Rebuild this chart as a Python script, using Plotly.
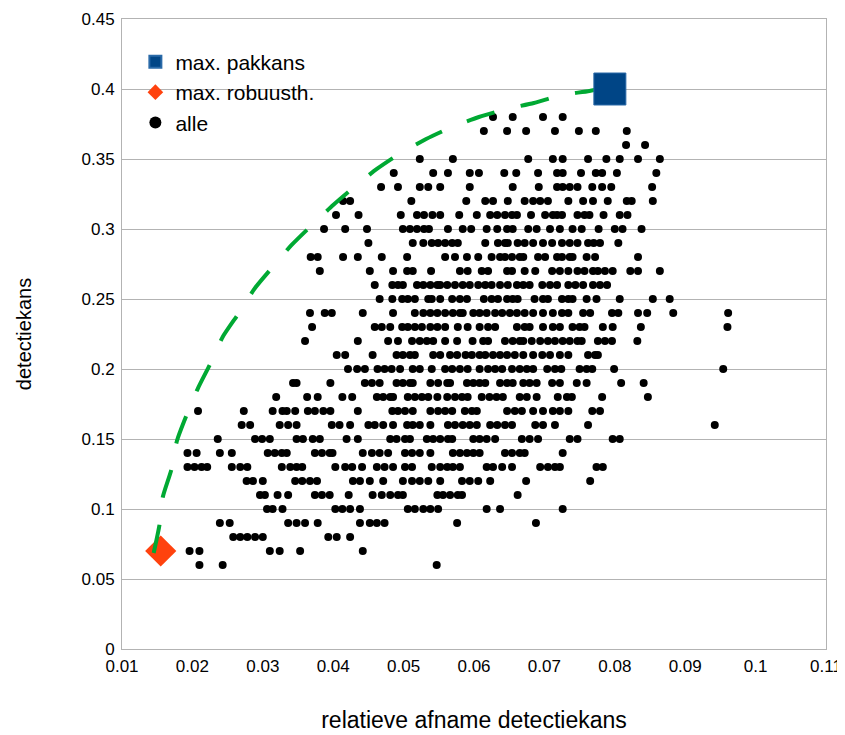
import plotly.graph_objects as go

# x values in thousandths (0.001) per detectiekans row
row_038 = [62.7, 65.5, 69.8, 72.6]
row_037 = [61.4, 64.7, 67.4, 71.5, 74.9, 77.3, 81.7]
row_036 = [81.6, 84.3]
row_035 = [52.3, 57.0, 67.7, 71.2, 72.6, 76.2, 78.8, 80.7, 83.3, 86.4]
row_034 = [48.6, 54.2, 56.3, 59.4, 60.7, 64.3, 66.0, 69.1, 71.8, 72.6, 75.2, 77.3, 78.2, 80.3, 85.9]
row_033 = [46.8, 49.2, 52.3, 53.5, 55.2, 59.4, 65.5, 69.2, 71.8, 72.6, 73.6, 74.7, 76.8, 78.2, 79.5, 85.3]
row_032 = [41.4, 42.4, 51.1, 58.9, 61.6, 62.7, 64.8, 67.2, 68.4, 69.4, 70.5, 73.4, 75.5, 76.9, 79.0, 81.7, 82.4, 85.4]
row_031 = [40.4, 43.6, 49.6, 51.9, 52.9, 54.1, 55.2, 57.9, 60.4, 62.3, 63.3, 64.4, 65.4, 66.1, 68.1, 70.1, 71.2, 71.8, 72.5, 74.7, 75.7, 76.4, 78.4, 80.7, 81.8]
row_030 = [38.7, 41.7, 44.8, 49.9, 50.9, 51.9, 52.9, 53.6, 56.3, 58.4, 59.6, 61.8, 63.3, 64.7, 65.5, 67.7, 68.9, 70.8, 72.2, 74.0, 75.3, 77.7, 80.0, 81.1, 83.8]
row_029 = [45.0, 51.3, 52.8, 54.0, 54.9, 55.9, 56.9, 57.7, 61.6, 63.4, 64.4, 64.8, 66.2, 67.2, 68.4, 69.8, 71.1, 72.5, 73.6, 74.7, 76.2, 77.0, 77.9, 80.5]
row_028 = [36.8, 37.8, 41.4, 43.5, 46.9, 50.5, 55.9, 57.3, 59.0, 60.6, 62.5, 63.7, 64.4, 65.4, 66.5, 67.0, 69.1, 70.1, 71.8, 72.5, 73.6, 74.0, 76.0, 77.2, 83.3]
row_027 = [38.1, 45.2, 48.5, 50.5, 51.3, 53.9, 58.0, 59.1, 61.1, 62.0, 64.7, 65.4, 67.2, 68.7, 71.1, 72.2, 73.4, 74.7, 75.7, 76.9, 77.6, 78.6, 79.7, 82.2, 83.3, 86.4]
row_026 = [45.9, 48.4, 49.2, 49.9, 51.9, 52.8, 53.8, 54.8, 55.2, 56.2, 57.3, 58.4, 59.4, 60.6, 61.6, 62.5, 63.7, 64.8, 66.1, 67.0, 67.9, 69.7, 70.8, 71.8, 73.4, 74.4, 75.5, 76.9, 77.9, 78.9]
row_025 = [46.6, 48.4, 49.8, 50.6, 51.6, 53.5, 54.0, 55.2, 56.9, 58.0, 59.0, 61.4, 62.5, 63.4, 64.7, 65.5, 66.2, 68.6, 69.8, 70.5, 72.5, 73.4, 74.0, 76.0, 77.4, 80.7, 85.4, 87.8]
row_024 = [36.7, 38.8, 39.8, 44.2, 48.5, 51.6, 52.8, 53.8, 54.8, 55.9, 57.0, 58.0, 58.4, 59.9, 60.8, 61.8, 63.0, 64.0, 65.1, 66.1, 67.2, 68.4, 69.8, 71.2, 72.5, 73.4, 75.5, 76.5, 79.6, 80.5, 83.3, 84.6, 88.3, 96.1]
row_023 = [37.0, 45.9, 46.9, 48.1, 49.8, 50.6, 51.6, 52.6, 53.8, 54.8, 55.9, 57.7, 59.1, 60.8, 62.0, 63.0, 66.1, 67.2, 67.9, 69.8, 71.2, 72.2, 74.0, 75.0, 75.7, 78.3, 79.7, 83.7, 96.0]
row_022 = [36.0, 43.5, 47.8, 49.2, 51.2, 52.3, 53.3, 54.2, 55.9, 57.6, 59.8, 61.3, 62.0, 64.4, 65.5, 66.5, 67.0, 68.2, 69.4, 70.5, 71.5, 72.6, 73.6, 74.7, 75.3, 77.6, 78.6, 79.6, 83.2]
row_021 = [40.5, 41.7, 45.6, 49.0, 49.9, 50.9, 51.6, 54.2, 55.2, 56.6, 57.6, 58.8, 59.7, 60.8, 61.6, 62.7, 63.7, 64.7, 65.8, 67.0, 68.4, 69.7, 70.8, 72.2, 73.4, 76.2, 77.2, 77.6]
row_020 = [42.1, 43.4, 44.5, 46.3, 47.3, 48.3, 49.5, 51.3, 52.3, 54.0, 55.9, 56.9, 58.0, 59.1, 60.8, 62.0, 63.0, 64.0, 65.4, 66.5, 67.5, 68.4, 70.4, 71.5, 72.4, 75.0, 76.0, 76.8, 79.9, 95.4]
row_019 = [34.3, 34.8, 39.6, 44.5, 45.5, 46.6, 49.0, 49.9, 50.9, 51.3, 53.8, 54.9, 56.2, 56.6, 59.0, 59.9, 60.8, 61.6, 63.7, 64.7, 65.5, 67.0, 67.9, 68.9, 71.1, 72.2, 74.6, 76.0, 80.9, 84.1]
row_018 = [31.9, 36.3, 37.8, 41.3, 42.7, 46.2, 47.1, 48.1, 48.5, 50.6, 51.6, 52.6, 53.5, 54.8, 56.2, 57.3, 58.3, 59.1, 61.1, 62.2, 63.2, 64.1, 66.5, 67.5, 68.9, 71.9, 73.2, 73.9, 78.2, 84.7]
row_017 = [20.8, 27.3, 31.4, 32.8, 33.4, 34.6, 36.4, 37.4, 38.6, 39.6, 43.5, 48.4, 49.2, 50.2, 51.3, 53.8, 54.9, 55.9, 56.9, 58.7, 59.7, 60.4, 64.7, 65.8, 66.8, 68.4, 69.8, 71.2, 72.2, 73.4, 76.8, 77.9]
row_016 = [27.0, 28.2, 32.4, 33.6, 34.8, 39.8, 40.9, 42.4, 45.0, 45.9, 47.1, 48.5, 50.5, 51.3, 52.3, 53.8, 56.3, 57.3, 58.4, 59.4, 60.4, 62.3, 63.3, 64.4, 65.4, 68.7, 69.8, 71.5, 76.2, 94.2]
row_015 = [23.6, 28.9, 29.9, 31.0, 34.8, 35.7, 37.1, 38.1, 41.9, 43.5, 48.1, 49.0, 50.2, 50.9, 53.3, 54.2, 55.2, 56.3, 56.9, 59.9, 60.8, 61.8, 63.0, 66.8, 67.9, 69.1, 73.6, 74.7, 79.7, 80.7]
row_014 = [19.3, 20.6, 23.9, 25.6, 30.7, 31.7, 32.7, 33.4, 37.4, 38.4, 39.5, 39.9, 44.2, 45.5, 46.6, 47.8, 50.2, 51.2, 52.3, 53.8, 57.0, 58.0, 59.0, 59.9, 60.8, 64.4, 65.4, 66.5, 67.2, 72.6]
row_013 = [19.3, 20.3, 21.3, 22.1, 25.6, 26.8, 27.8, 32.7, 33.9, 34.8, 35.6, 40.3, 41.7, 42.7, 44.1, 46.2, 47.3, 48.5, 50.2, 51.2, 54.0, 55.2, 56.2, 57.0, 58.0, 61.8, 62.7, 64.0, 65.4, 69.4, 70.5, 71.5, 72.2, 77.4, 78.3]
row_012 = [27.7, 28.6, 30.0, 34.6, 35.6, 36.7, 37.7, 42.8, 43.8, 45.2, 47.1, 49.9, 51.2, 52.3, 53.5, 55.2, 58.3, 59.4, 60.6, 62.3, 67.4, 76.5]
row_011 = [29.6, 30.3, 32.1, 33.6, 37.4, 38.4, 39.5, 42.2, 45.6, 46.9, 48.1, 49.2, 49.9, 54.8, 55.6, 56.6, 57.7, 58.3, 66.2]
row_010 = [30.6, 31.4, 32.8, 40.3, 41.3, 42.4, 43.8, 50.6, 51.6, 52.8, 53.8, 54.9, 61.8, 63.7, 72.6]
row_009 = [23.9, 25.3, 33.6, 34.8, 36.0, 37.8, 43.8, 45.2, 46.2, 47.3, 57.6, 68.8]
row_008 = [25.8, 26.8, 27.8, 28.9, 30.0, 39.3, 40.5, 42.4]
row_007 = [19.6, 21.0, 31.0, 32.4, 35.3, 44.2]
row_006 = [21.0, 24.3, 54.7]

row_levels = [0.38, 0.37, 0.36, 0.35, 0.34, 0.33, 0.32, 0.31, 0.30, 0.29, 0.28, 0.27,
              0.26, 0.25, 0.24, 0.23, 0.22, 0.21, 0.20, 0.19, 0.18, 0.17, 0.16, 0.15,
              0.14, 0.13, 0.12, 0.11, 0.10, 0.09, 0.08, 0.07, 0.06]
row_lists = [row_038, row_037, row_036, row_035, row_034, row_033, row_032, row_031,
             row_030, row_029, row_028, row_027, row_026, row_025, row_024, row_023,
             row_022, row_021, row_020, row_019, row_018, row_017, row_016, row_015,
             row_014, row_013, row_012, row_011, row_010, row_009, row_008, row_007, row_006]

# special points
pakkans_x = [0.0793]
pakkans_y = [0.40]
robuust_x = [0.0155]
robuust_y = [0.07]

# front curve
front_x = [0.0145, 0.0153, 0.0158, 0.0170, 0.0178, 0.0189, 0.0208, 0.0226, 0.0243, 0.0266,
           0.0289, 0.0314, 0.0341, 0.0370, 0.0400, 0.0430, 0.0462, 0.0496, 0.0532, 0.0569,
           0.0607, 0.0646, 0.0685, 0.0725, 0.0764, 0.0787]
front_y = [0.0686, 0.0879, 0.1086, 0.1279, 0.1486, 0.1636, 0.1864, 0.2043, 0.2229, 0.2400,
           0.2579, 0.2729, 0.2886, 0.3029, 0.3171, 0.3300, 0.3429, 0.3543, 0.3643, 0.3729,
           0.3800, 0.3857, 0.3900, 0.3957, 0.3986, 0.4014]

alle_x, alle_y = [], []
for lvl, xs in zip(row_levels, row_lists):
    for v in xs:
        alle_x.append(v / 1000.0)
        alle_y.append(lvl)

FONT = "Liberation Sans, Arial, sans-serif"

fig = go.Figure()
fig.add_trace(go.Scatter(
    x=alle_x, y=alle_y, mode="markers", name="alle",
    marker=dict(symbol="circle", size=8, color="#000000"),
    legendrank=3, legendgroup="c", showlegend=True))
fig.add_trace(go.Scatter(
    x=robuust_x, y=robuust_y, mode="markers", name="max. robuusth.",
    marker=dict(symbol="diamond", size=24, color="#ff420e", line=dict(width=0)),
    legendrank=2, legendgroup="b"))
fig.add_trace(go.Scatter(
    x=front_x, y=front_y, mode="lines", showlegend=False, hoverinfo="skip",
    line=dict(color="#00a933", width=4, dash="29px,27px", shape="spline", smoothing=0.6)))
fig.add_trace(go.Scatter(
    x=pakkans_x, y=pakkans_y, mode="markers", name="max. pakkans",
    marker=dict(symbol="square", size=32, color="#004586", line=dict(width=1, color="#2a6aa8")),
    legendrank=1, legendgroup="a"))

# the page body adds an 8px offset, so the figure is sized to the remaining window
fig.update_layout(
    width=837, height=727,
    paper_bgcolor="white", plot_bgcolor="white",
    margin=dict(l=114, r=19, t=11, b=86),
    font=dict(family=FONT, size=16, color="#000000"),
    showlegend=True,
    legend=dict(x=0.019, y=0.964, xanchor="left", yanchor="top",
                bgcolor="rgba(255,255,255,0)", borderwidth=0,
                font=dict(family=FONT, size=21, color="#000000"),
                itemsizing="constant", tracegroupgap=0, traceorder="grouped"),
    xaxis=dict(range=[0.01, 0.11], tick0=0.01, dtick=0.01, tickformat="~g",
               showgrid=False, zeroline=False, automargin=False,
               showline=True, linecolor="#b3b3b3", linewidth=1, mirror=True,
               ticks="", ticklabelstandoff=2,
               tickfont=dict(family=FONT, size=17, color="#000000"),
               title=dict(text="relatieve afname detectiekans",
                          font=dict(family=FONT, size=23, color="#000000"), standoff=36)),
    yaxis=dict(range=[0, 0.45], tick0=0, dtick=0.05, tickformat="~g",
               showgrid=True, gridcolor="#b3b3b3", gridwidth=1, zeroline=False, automargin=False,
               showline=True, linecolor="#b3b3b3", linewidth=1, mirror=True,
               ticks="", ticklabelstandoff=3,
               tickfont=dict(family=FONT, size=17, color="#000000"),
               title=dict(text="detectiekans",
                          font=dict(family=FONT, size=20, color="#000000"), standoff=44)),
)

fig.write_html("out.html")
